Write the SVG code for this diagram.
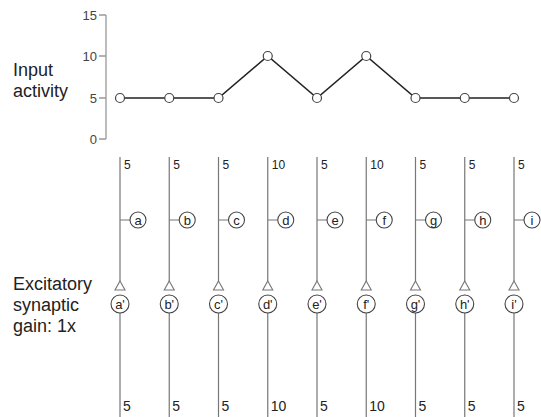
<svg xmlns="http://www.w3.org/2000/svg" width="541" height="417" viewBox="0 0 541 417">
<style>
text{font-family:"Liberation Sans",Arial,sans-serif;fill:#222}
.lbl{font-size:18px}
.tick{font-size:13px;fill:#444;text-anchor:end}
.axis{stroke:#999;stroke-width:1.3;fill:none}
.data{stroke:#222;stroke-width:1.6;fill:none}
.pt{fill:#fff;stroke:#444;stroke-width:1.2}
.ax{stroke:#777;stroke-width:1.2;fill:none}
.node{fill:#fff;stroke:#444;stroke-width:1.1}
.tri{fill:#fff;stroke:#777;stroke-width:1.1}
.nt{font-size:13px;text-anchor:middle}
.top{font-size:12px}
.bot{font-size:14px}
</style>
<rect width="541" height="417" fill="#fff"/>
<g id="labels">
<text class="lbl" x="13" y="76">Input</text>
<text class="lbl" x="13" y="97">activity</text>
<text class="lbl" x="13" y="290">Excitatory</text>
<text class="lbl" x="13" y="311">synaptic</text>
<text class="lbl" x="13" y="332">gain: 1x</text>
</g>
<g id="chart">
<path class="axis" d="M106 15V139M99 15H106M99 56H106M99 98H106M99 139H106"/>
<text class="tick" x="97" y="20">15</text>
<text class="tick" x="97" y="61">10</text>
<text class="tick" x="97" y="103">5</text>
<text class="tick" x="97" y="144">0</text>
<polyline class="data" points="120,98 169.25,98 218.5,98 267.75,56 317,98 366.25,56 415.5,98 464.75,98 514,98"/>
<circle class="pt" cx="120" cy="98" r="4.5"/>
<circle class="pt" cx="169.25" cy="98" r="4.5"/>
<circle class="pt" cx="218.5" cy="98" r="4.5"/>
<circle class="pt" cx="267.75" cy="56" r="4.5"/>
<circle class="pt" cx="317" cy="98" r="4.5"/>
<circle class="pt" cx="366.25" cy="56" r="4.5"/>
<circle class="pt" cx="415.5" cy="98" r="4.5"/>
<circle class="pt" cx="464.75" cy="98" r="4.5"/>
<circle class="pt" cx="514" cy="98" r="4.5"/>
</g>
<g id="connectors">
<path class="ax" d="M120 157V281M120 313V417M120 220H130"/>
<path class="ax" d="M169.25 157V281M169.25 313V417M169.25 220H179.25"/>
<path class="ax" d="M218.5 157V281M218.5 313V417M218.5 220H228.5"/>
<path class="ax" d="M267.75 157V281M267.75 313V417M267.75 220H277.75"/>
<path class="ax" d="M317 157V281M317 313V417M317 220H327"/>
<path class="ax" d="M366.25 157V281M366.25 313V417M366.25 220H376.25"/>
<path class="ax" d="M415.5 157V281M415.5 313V417M415.5 220H425.5"/>
<path class="ax" d="M464.75 157V281M464.75 313V417M464.75 220H474.75"/>
<path class="ax" d="M514 157V281M514 313V417M514 220H524"/>
</g>
<g id="col-a"><text class="top" x="124" y="169">5</text><circle class="node" cx="138" cy="220" r="8"/><text class="nt" x="138" y="224.5">a</text><path class="tri" d="M120 281L125 290H115Z"/><circle class="node" cx="120" cy="304" r="9"/><text class="nt" x="120" y="308.5">a'</text><text class="bot" x="123" y="411">5</text></g>
<g id="col-b"><text class="top" x="173.25" y="169">5</text><circle class="node" cx="187.25" cy="220" r="8"/><text class="nt" x="187.25" y="224.5">b</text><path class="tri" d="M169.25 281L174.25 290H164.25Z"/><circle class="node" cx="169.25" cy="304" r="9"/><text class="nt" x="169.25" y="308.5">b'</text><text class="bot" x="172.25" y="411">5</text></g>
<g id="col-c"><text class="top" x="222.5" y="169">5</text><circle class="node" cx="236.5" cy="220" r="8"/><text class="nt" x="236.5" y="224.5">c</text><path class="tri" d="M218.5 281L223.5 290H213.5Z"/><circle class="node" cx="218.5" cy="304" r="9"/><text class="nt" x="218.5" y="308.5">c'</text><text class="bot" x="221.5" y="411">5</text></g>
<g id="col-d"><text class="top" x="271.75" y="169">10</text><circle class="node" cx="285.75" cy="220" r="8"/><text class="nt" x="285.75" y="224.5">d</text><path class="tri" d="M267.75 281L272.75 290H262.75Z"/><circle class="node" cx="267.75" cy="304" r="9"/><text class="nt" x="267.75" y="308.5">d'</text><text class="bot" x="270.75" y="411">10</text></g>
<g id="col-e"><text class="top" x="321" y="169">5</text><circle class="node" cx="335" cy="220" r="8"/><text class="nt" x="335" y="224.5">e</text><path class="tri" d="M317 281L322 290H312Z"/><circle class="node" cx="317" cy="304" r="9"/><text class="nt" x="317" y="308.5">e'</text><text class="bot" x="320" y="411">5</text></g>
<g id="col-f"><text class="top" x="370.25" y="169">10</text><circle class="node" cx="384.25" cy="220" r="8"/><text class="nt" x="384.25" y="224.5">f</text><path class="tri" d="M366.25 281L371.25 290H361.25Z"/><circle class="node" cx="366.25" cy="304" r="9"/><text class="nt" x="366.25" y="308.5">f'</text><text class="bot" x="369.25" y="411">10</text></g>
<g id="col-g"><text class="top" x="419.5" y="169">5</text><circle class="node" cx="433.5" cy="220" r="8"/><text class="nt" x="433.5" y="224.5">g</text><path class="tri" d="M415.5 281L420.5 290H410.5Z"/><circle class="node" cx="415.5" cy="304" r="9"/><text class="nt" x="415.5" y="308.5">g'</text><text class="bot" x="418.5" y="411">5</text></g>
<g id="col-h"><text class="top" x="468.75" y="169">5</text><circle class="node" cx="482.75" cy="220" r="8"/><text class="nt" x="482.75" y="224.5">h</text><path class="tri" d="M464.75 281L469.75 290H459.75Z"/><circle class="node" cx="464.75" cy="304" r="9"/><text class="nt" x="464.75" y="308.5">h'</text><text class="bot" x="467.75" y="411">5</text></g>
<g id="col-i"><text class="top" x="518" y="169">5</text><circle class="node" cx="532" cy="220" r="8"/><text class="nt" x="532" y="224.5">i</text><path class="tri" d="M514 281L519 290H509Z"/><circle class="node" cx="514" cy="304" r="9"/><text class="nt" x="514" y="308.5">i'</text><text class="bot" x="517" y="411">5</text></g>
</svg>
